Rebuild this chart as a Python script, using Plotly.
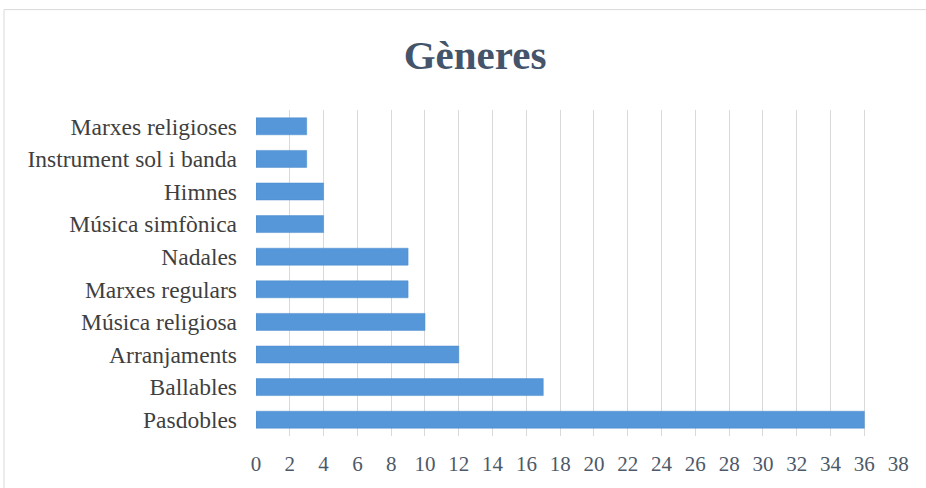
import plotly.graph_objects as go

categories = ["Pasdobles", "Ballables", "Arranjaments", "Música religiosa", "Marxes regulars",
              "Nadales", "Música simfònica", "Himnes", "Instrument sol i banda", "Marxes religioses"]
values = [36, 17, 12, 10, 9, 9, 4, 4, 3, 3]
x_ticks = list(range(0, 40, 2))

W, H = 926, 488
L, R, T, B = 256, 27, 110, 50
pw, ph = W - L - R, H - T - B

fig = go.Figure(go.Bar(
    x=values, y=categories, orientation="h",
    marker=dict(color="#5597d8", line=dict(color="#4a8bcc", width=0.5)),
    hoverinfo="skip",
))

fig.update_layout(
    width=W, height=H,
    paper_bgcolor="white", plot_bgcolor="white",
    margin=dict(l=L, r=R, t=T, b=B),
    bargap=0.48,
    showlegend=False,
    title=dict(text="<b>Gèneres</b>", xref="container", x=475 / W, xanchor="center",
               yref="container", y=1 - 55 / H, yanchor="middle",
               font=dict(family="Liberation Serif, serif", size=41, color="#44546A")),
    font=dict(family="Liberation Serif, serif"),
    shapes=[dict(type="rect", xref="paper", yref="paper",
                 x0=(4 - L) / pw, x1=(W + 10 - L) / pw,
                 y0=-(H + 10 - T - ph) / ph, y1=1 + (T - 9) / ph,
                 line=dict(color="#d9d9d9", width=1), layer="below")],
)
fig.update_xaxes(range=[0, 38.05], tickvals=x_ticks, showgrid=True, gridcolor="#d9d9d9",
                 gridwidth=1, zeroline=False, showline=False,
                 tickfont=dict(size=21, color="#4d5968"), ticklabelstandoff=13)
fig.update_yaxes(showgrid=False, showline=False, zeroline=False,
                 tickfont=dict(size=23.5, color="#3f3f3f"), ticklabelstandoff=18)

fig.write_html("out.html", config={"displayModeBar": False},
               post_script="document.body.style.margin='0';document.body.style.overflow='hidden';")
